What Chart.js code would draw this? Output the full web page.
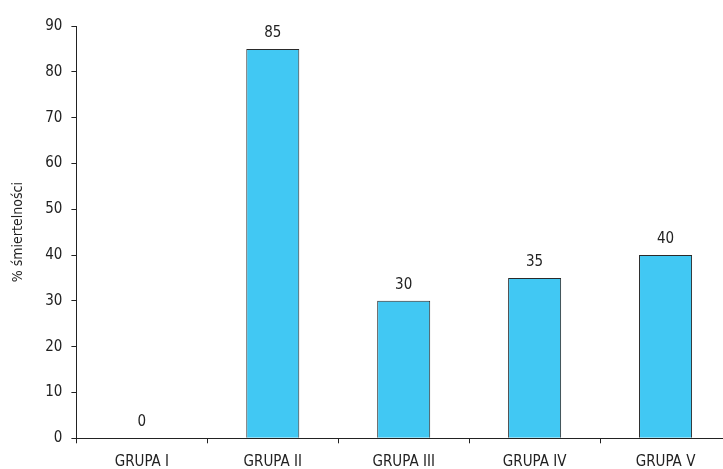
<!DOCTYPE html>
<html>
<head>
<meta charset="utf-8">
<script src="https://cdn.jsdelivr.net/npm/chart.js@4/dist/chart.umd.min.js"></script>
<style>
  html, body { margin: 0; padding: 0; background: #fff; overflow: hidden; }
  canvas { display: block; }
</style>
</head>
<body>
<canvas id="c" width="731" height="469"></canvas>
<script>
const categories = ['GRUPA I', 'GRUPA II', 'GRUPA III', 'GRUPA IV', 'GRUPA V'];
const mortality = [0, 85, 30, 35, 40];
const yTitle = '% śmiertelności';

const FONT = "'DejaVu Sans Condensed', 'Liberation Sans Narrow', 'Arial Narrow', sans-serif";
const INK = '#222';

// writes each bar's value just above its top edge
const valueLabels = {
  id: 'valueLabels',
  afterDatasetsDraw(chart) {
    const ctx = chart.ctx;
    const meta = chart.getDatasetMeta(0);
    ctx.save();
    ctx.font = '15px ' + FONT;
    ctx.fillStyle = INK;
    ctx.textAlign = 'center';
    ctx.textBaseline = 'middle';
    meta.data.forEach((bar, i) => {
      ctx.fillText(String(mortality[i]), bar.x, bar.y - 16);
    });
    ctx.restore();
  }
};

new Chart(document.getElementById('c'), {
  type: 'bar',
  data: {
    labels: categories,
    datasets: [{
      data: mortality,
      backgroundColor: '#41C8F3',
      borderColor: '#2a2a2a',
      borderWidth: 1,
      barPercentage: 0.405,
      categoryPercentage: 1
    }]
  },
  options: {
    responsive: false,
    animation: false,
    devicePixelRatio: 1,
    layout: { padding: { top: 26, right: 0, left: 0, bottom: 0 } },
    plugins: { legend: { display: false }, tooltip: { enabled: false } },
    scales: {
      x: {
        offset: true,
        grid: { offset: true, drawOnChartArea: false, drawTicks: true, tickLength: 5, color: INK },
        border: { display: true, color: INK, width: 1 },
        ticks: { color: INK, font: { family: FONT, size: 15 }, padding: 10, maxRotation: 0 },
        afterFit(scale) { scale.height = 30.7; }
      },
      y: {
        min: 0,
        max: 90,
        ticks: { stepSize: 10, color: INK, font: { family: FONT, size: 15 }, padding: 9 },
        grid: { drawOnChartArea: false, drawTicks: true, tickLength: 5, color: INK },
        border: { display: true, color: INK, width: 1 },
        title: { display: true, text: yTitle, color: INK, font: { family: FONT, size: 14 }, padding: { top: 10, bottom: 0 } },
        afterFit(scale) { scale.width = 76.4; }
      }
    }
  },
  plugins: [valueLabels]
});
</script>
</body>
</html>
